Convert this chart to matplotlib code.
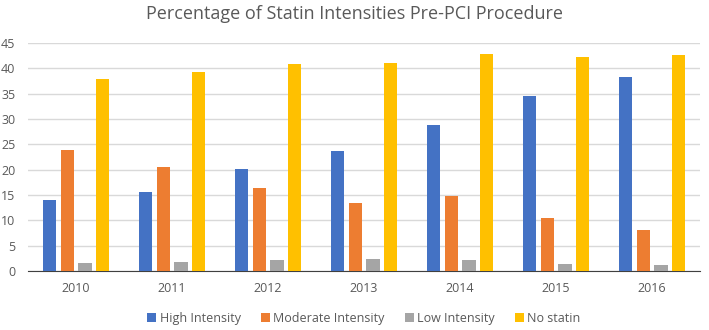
import numpy as np
import matplotlib.pyplot as plt

plt.rcParams['font.family'] = ['Open Sans', 'DejaVu Sans']

# data
years = ['2010', '2011', '2012', '2013', '2014', '2015', '2016']
high = [13.9, 15.5, 20.1, 23.7, 28.7, 34.5, 38.2]
moderate = [23.9, 20.6, 16.3, 13.5, 14.8, 10.4, 8.1]
low = [1.65, 1.8, 2.2, 2.3, 2.1, 1.4, 1.25]
no_statin = [37.9, 39.3, 40.9, 41.0, 42.75, 42.3, 42.6]

series = [('High Intensity', high, '#4472C4'),
          ('Moderate Intensity', moderate, '#ED7D31'),
          ('Low Intensity', low, '#A5A5A5'),
          ('No statin', no_statin, '#FFC000')]

text_col = '#595959'

fig = plt.figure(figsize=(7.09, 3.30), dpi=100)
ax = fig.add_axes([0.0395, 0.179, 0.948, 0.691])

x = np.arange(len(years))
step = 0.184
width = 0.139
for i, (name, vals, col) in enumerate(series):
    ax.bar(x + (i - 1.5) * step, vals, width, color=col, label=name, zorder=3)

ax.set_xlim(-0.5, len(years) - 0.5)
ax.set_ylim(0, 45)
ax.set_yticks(range(0, 46, 5))
ax.set_xticks(x)
ax.set_xticklabels(years)
ax.grid(axis='y', color='#D9D9D9', linewidth=1, zorder=0)
for s in ['top', 'right', 'left']:
    ax.spines[s].set_visible(False)
ax.spines['bottom'].set_color('#404040')
ax.tick_params(axis='both', length=0, colors=text_col, labelsize=9)
ax.tick_params(axis='x', pad=8)
ax.tick_params(axis='y', pad=9)

fig.suptitle('Percentage of Statin Intensities Pre-PCI Procedure', y=0.985,
             fontsize=13, color=text_col)

ax.legend(loc='upper center', bbox_to_anchor=(0.5, -0.13), ncol=4, frameon=False,
          fontsize=9, labelcolor=text_col, handlelength=0.7, handleheight=0.7,
          handletextpad=0.3, columnspacing=1.6)

fig.savefig('out.png', dpi=100)
